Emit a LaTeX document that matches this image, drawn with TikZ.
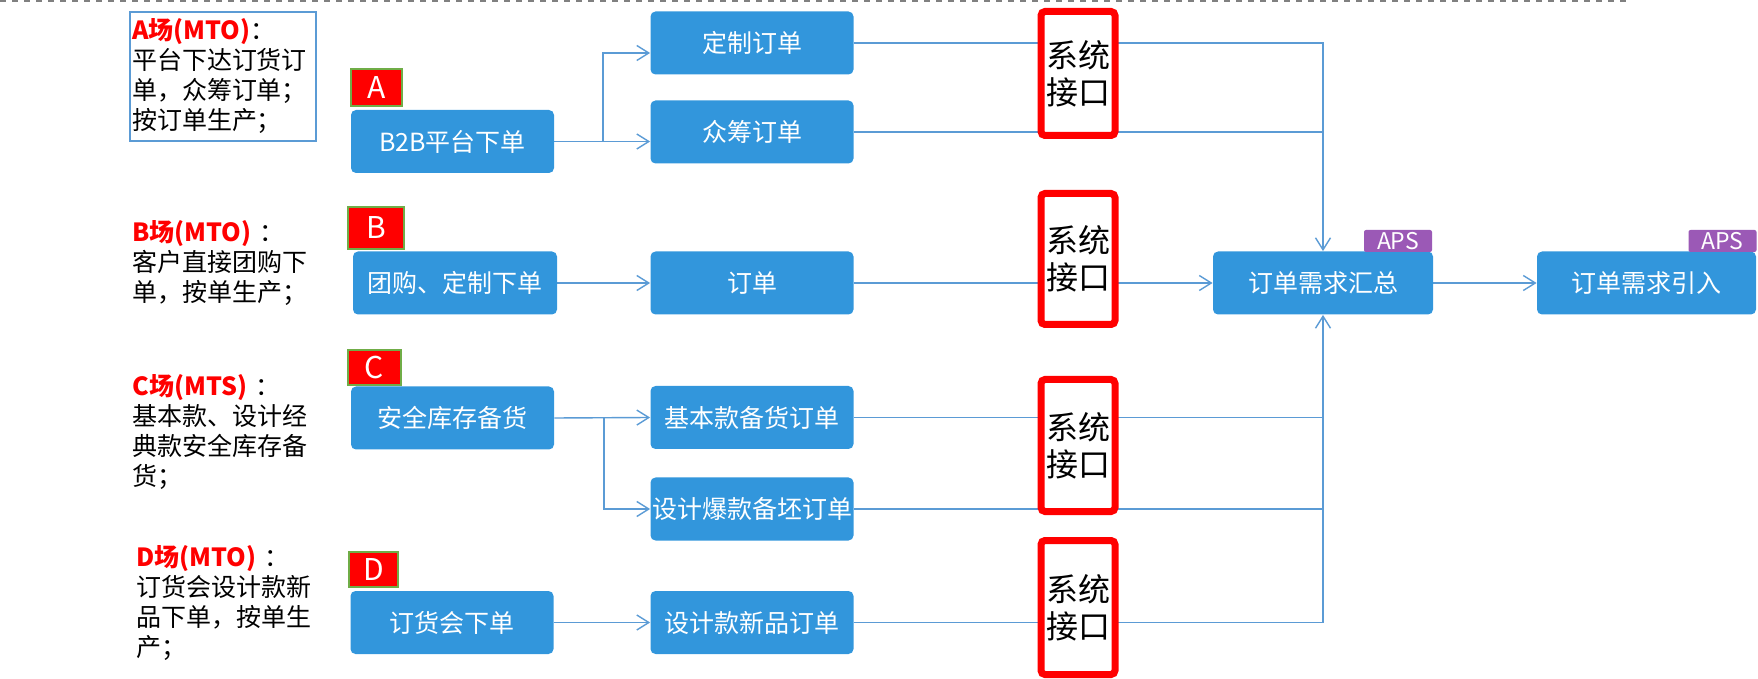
\documentclass[tikz,border=0pt]{standalone}
\usepackage{fontspec}
\setmainfont{Noto Sans CJK SC}
\usetikzlibrary{arrows.meta, positioning, backgrounds}
\definecolor{cBox}{RGB}{50,150,220}
\definecolor{cLine}{RGB}{91,155,213}
\definecolor{cAps}{RGB}{155,89,182}
\definecolor{cScn}{RGB}{112,173,71}

\begin{document}
\begin{tikzpicture}[x=0.5pt, y=-0.5pt,
            blk/.style={rectangle, rounded corners=2.5pt, fill=cBox, text=white, minimum width=101.5pt, minimum height=31.5pt, inner sep=0pt, font=\fontsize{12.5}{15}\selectfont},
            scn/.style={rectangle, fill=red, draw=cScn, line width=0.6pt, text=white, inner sep=0pt, font=\fontsize{15}{15}\selectfont},
            aps/.style={rectangle, rounded corners=1pt, fill=cAps, text=white, minimum width=34pt, minimum height=11pt, inner sep=0pt, font=\fontsize{11.5}{11}\selectfont},
            iface/.style={rectangle, rounded corners=2pt, draw=red, line width=3.5pt, fill=white, minimum width=37pt, inner sep=0pt, align=center, font=\fontsize{16}{18.5}\selectfont},
            note/.style={align=left, text width=91pt, inner sep=0pt, font=\fontsize{12.5}{15}\selectfont},
            ln/.style={draw=cLine, line width=0.7pt},
            arr/.style={ln, -{Straight Barb[length=6pt, width=7.5pt]}}]
            \useasboundingbox (0,0) rectangle (1758,679);
            \draw[gray, dashed, line width=0.6pt] (0,1) -- (1630,1);
            % scenario notes
            \node[note, draw=cLine, line width=0.9pt, minimum width=93pt, minimum height=64.5pt] (na) at (223,76.5)
                {\textcolor{red}{\bfseries A场(MTO)}：\\平台下达订货订\\单，众筹订单；\\按订单生产；};
            \node[note, anchor=west] (nb) at (132,263) {\textcolor{red}{\bfseries B场(MTO)} ：\\客户直接团购下\\单，按单生产；};
            \node[note, anchor=west] (nc) at (132,432) {\textcolor{red}{\bfseries C场(MTS)} ：\\基本款、设计经\\典款安全库存备\\货；};
            \node[note, anchor=west] (nd) at (136,603) {\textcolor{red}{\bfseries D场(MTO)} ：\\订货会设计款新\\品下单，按单生\\产；};
            % scenario tags
            \node[scn, minimum width=25.5pt, minimum height=18.5pt] (ta) at (376.5,87.5) {A};
            \node[scn, minimum width=28pt, minimum height=21pt] (tb) at (376,228) {B};
            \node[scn, minimum width=26.5pt, minimum height=17.5pt] (tc) at (374.5,367.5) {C};
            \node[scn, minimum width=24.5pt, minimum height=17.5pt] (td) at (373.5,569.5) {D};
            % sources
            \node[blk] (b2b) at (452.5,141.5) {B2B平台下单};
            \node[blk, minimum width=102pt] (tuangou) at (455,283) {团购、定制下单};
            \node[blk] (anquan) at (452.5,418) {安全库存备货};
            \node[blk] (dinghuo) at (452,622.5) {订货会下单};
            % orders
            \node[blk] (dingzhi) at (752,43) {定制订单};
            \node[blk] (zhongchou) at (752,132) {众筹订单};
            \node[blk] (dingdan) at (752,283) {订单};
            \node[blk] (jiben) at (752,417.5) {基本款备货订单};
            \node[blk] (baokuan) at (752,509) {设计爆款备坯订单};
            \node[blk] (xinpin) at (752,622.5) {设计款新品订单};
            % APS
            \node[blk, minimum width=110pt] (huizong) at (1323,283) {订单需求汇总};
            \node[blk, minimum width=109.5pt] (yinru) at (1646.5,283) {订单需求引入};
            \node[aps] (aps1) at (1398,241) {APS};
            \node[aps] (aps2) at (1722.5,241) {APS};
            \coordinate (sa) at (603,141.5);
            \coordinate (sc) at (604,417.5);
            \begin{scope}[on background layer]
                \draw[arr] (b2b.east) -- (zhongchou.west |- b2b.east);
                \draw[arr] (sa) |- ([yshift=-5pt]dingzhi.west);
                \draw[arr] (tuangou.east) -- (dingdan.west);
                \draw[arr] (anquan.east) -- (jiben.west);
                \draw[arr] (sc) |- (baokuan.west);
                \draw[arr] (dinghuo.east) -- (xinpin.west);
                \draw[arr] (dingzhi.east) -| (huizong.north);
                \draw[ln] (zhongchou.east) -- (zhongchou.east -| huizong.north);
                \draw[arr] (dingdan.east) -- (huizong.west);
                \draw[ln] (jiben.east) -- (jiben.east -| huizong.south);
                \draw[ln] (baokuan.east) -- (baokuan.east -| huizong.south);
                \draw[arr] (xinpin.east) -| (huizong.south);
                \draw[arr] (huizong.east) -- (yinru.west);
            \end{scope}
            % interfaces
            \foreach \n/\y/\h in {1/73.5/62, 2/259/65.5, 3/445.5/66, 4/607.5/67}
                \node[iface, minimum height=\h pt] (if\n) at (1078,\y) {系统\\接口};
        \end{tikzpicture}
\end{document}
